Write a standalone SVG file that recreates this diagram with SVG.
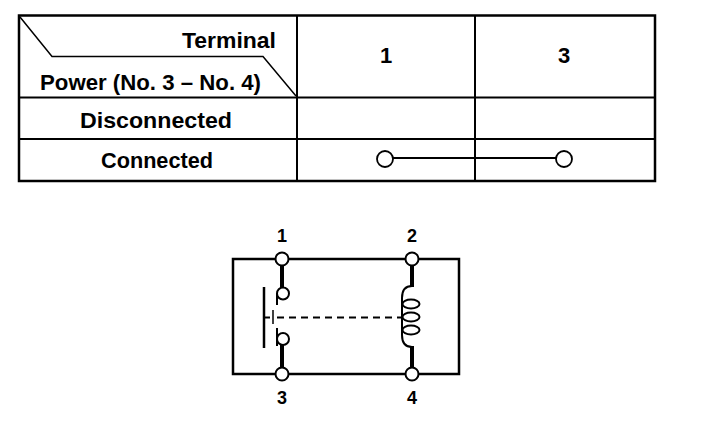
<svg xmlns="http://www.w3.org/2000/svg" width="704" height="440" viewBox="0 0 704 440">
<style>
.ln{stroke:#000;fill:none;stroke-linecap:butt}
.t{font-family:"Liberation Sans",Arial,Helvetica,sans-serif;font-weight:bold;fill:#000}
.term{fill:#fff;stroke:#000;stroke-width:2}
.wire{stroke:#000;stroke-width:4;fill:none}
.thin{stroke:#000;stroke-width:2;fill:none}
</style>
<rect x="0" y="0" width="704" height="440" fill="#fff"/>
<g id="table">
  <rect class="ln" x="19" y="15.5" width="636" height="165.5" stroke-width="2.5"/>
  <line class="ln" x1="297" y1="15" x2="297" y2="181" stroke-width="2"/>
  <line class="ln" x1="475" y1="15" x2="475" y2="181" stroke-width="2"/>
  <line class="ln" x1="19" y1="97.5" x2="655" y2="97.5" stroke-width="1.8"/>
  <line class="ln" x1="19" y1="139" x2="655" y2="139" stroke-width="1.8"/>
  <polyline class="ln" points="20,17 52,56.5 263,56.5 296,96" stroke-width="1.5"/>
</g>
<g id="table-text">
  <text class="t" x="276" y="48" font-size="22" text-anchor="end" textLength="94" lengthAdjust="spacingAndGlyphs">Terminal</text>
  <text class="t" x="40" y="90" font-size="22" textLength="221" lengthAdjust="spacingAndGlyphs">Power (No. 3 – No. 4)</text>
  <text class="t" x="386" y="63" font-size="22" text-anchor="middle">1</text>
  <text class="t" x="564" y="63" font-size="22" text-anchor="middle">3</text>
  <text class="t" x="80" y="127.5" font-size="22" textLength="152" lengthAdjust="spacingAndGlyphs">Disconnected</text>
  <text class="t" x="101" y="167.5" font-size="22" textLength="112" lengthAdjust="spacingAndGlyphs">Connected</text>
</g>
<g id="continuity">
  <line class="ln" x1="393" y1="158" x2="556" y2="158" stroke-width="1.8"/>
  <circle cx="385" cy="159" r="8" fill="#fff" stroke="#000" stroke-width="1.8"/>
  <circle cx="564" cy="159" r="8" fill="#fff" stroke="#000" stroke-width="1.8"/>
</g>
<g id="relay">
  <rect id="relay-frame" x="233" y="259" width="226" height="115" fill="none" stroke="#000" stroke-width="2.5"/>
  <g id="connectors">
    <line class="wire" x1="282" y1="265" x2="282" y2="288"/>
    <line class="wire" x1="282" y1="345" x2="282" y2="368"/>
    <line class="wire" x1="412" y1="265" x2="412" y2="287"/>
    <line class="wire" x1="412" y1="346" x2="412" y2="368"/>
    <line class="thin" x1="264" y1="317.5" x2="270" y2="317.5"/>
    <line class="thin" x1="277" y1="317.5" x2="402" y2="317.5" stroke-dasharray="7 5"/>
  </g>
  <g id="switch">
    <line x1="264" y1="287" x2="264" y2="348" stroke="#000" stroke-width="2.5"/>
    <line x1="273" y1="310" x2="273" y2="324" stroke="#000" stroke-width="1.5"/>
    <circle class="thin" cx="283" cy="293.5" r="6" fill="#fff"/>
    <line class="thin" x1="277" y1="293" x2="277" y2="305"/>
    <circle class="thin" cx="283" cy="339" r="6" fill="#fff"/>
    <line class="thin" x1="277" y1="328" x2="277" y2="346"/>
  </g>
  <g id="coil">
    <path class="thin" d="M412,286 C405,286 402,291 402,298 L402,335 C402,342 405,347 412,347"/>
    <ellipse class="thin" cx="411" cy="304" rx="8.5" ry="4.5" fill="#fff"/>
    <ellipse class="thin" cx="411" cy="317" rx="8.5" ry="4.5" fill="#fff"/>
    <ellipse class="thin" cx="411" cy="330" rx="8.5" ry="4.5" fill="#fff"/>
  </g>
  <g id="terminal-1"><circle class="term" cx="282" cy="259" r="6.5"/><text class="t" x="282" y="242" font-size="18" text-anchor="middle">1</text></g>
  <g id="terminal-2"><circle class="term" cx="412" cy="259" r="6.5"/><text class="t" x="412" y="242" font-size="18" text-anchor="middle">2</text></g>
  <g id="terminal-3"><circle class="term" cx="282" cy="374" r="6.5"/><text class="t" x="282" y="404" font-size="18" text-anchor="middle">3</text></g>
  <g id="terminal-4"><circle class="term" cx="412" cy="374" r="6.5"/><text class="t" x="412" y="404" font-size="18" text-anchor="middle">4</text></g>
</g>
</svg>
